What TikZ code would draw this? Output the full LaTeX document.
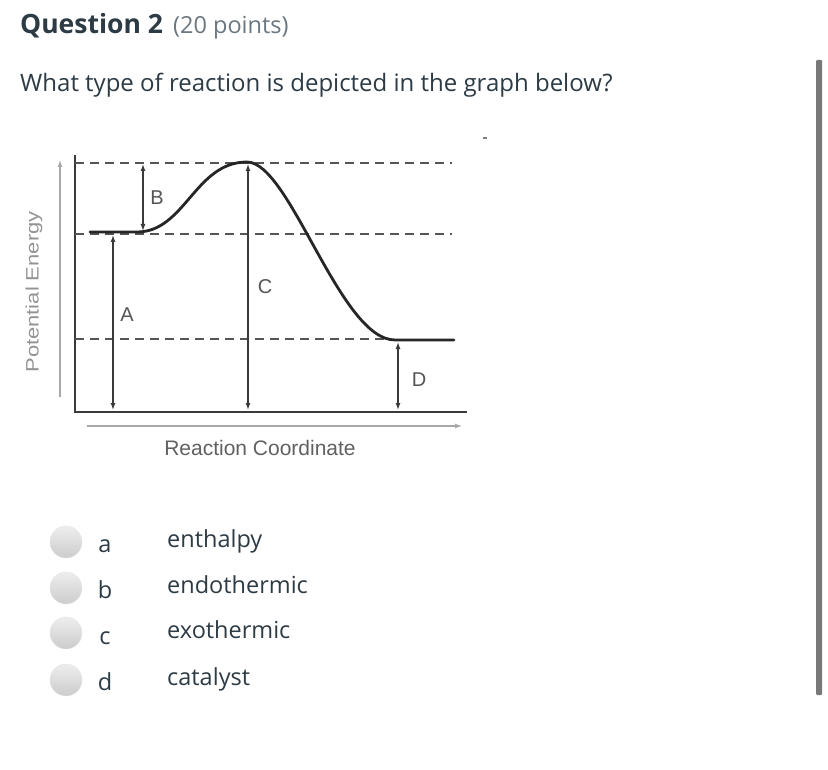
\documentclass[tikz,border=0pt]{standalone}
\usepackage{fontspec}
\setmainfont{Open Sans}
\newfontfamily\graphfont{Liberation Sans}
\usetikzlibrary{arrows.meta}
\definecolor{canvastext}{HTML}{2D3B45}
\definecolor{canvasgray}{HTML}{6B7780}
\definecolor{axiscol}{HTML}{3A3A3A}
\definecolor{dashcol}{HTML}{555555}
\definecolor{lblcol}{HTML}{555555}
\definecolor{lightax}{HTML}{A8A8A8}
\tikzset{
  txt/.style={inner sep=0pt, anchor=base west, text=canvastext},
  axis/.style={draw=axiscol, line width=1.5pt},
  lightaxis/.style={draw=lightax, line width=1.2pt, -{Latex[length=7pt,width=5pt]}},
  dashline/.style={draw=dashcol, line width=1.4pt, dash pattern=on 9pt off 6pt},
  curve/.style={draw=black!85, line width=2.8pt, line cap=round},
  dim/.style={draw=axiscol, line width=1.3pt, {Latex[length=7pt,width=5pt]}-{Latex[length=7pt,width=5pt]}},
  glabel/.style={inner sep=0pt, text=lblcol, font=\graphfont\fontsize{20}{20}\selectfont},
  radio/.style={circle, minimum size=32pt, inner sep=0pt, top color=white!93!black, bottom color=white!80!black, draw=white!90!black, line width=0.4pt},
  optletter/.style={inner sep=0pt, anchor=base, text=canvastext, font=\fontsize{23.5}{23.5}\selectfont},
  optword/.style={txt, font=\fontsize{23.5}{23.5}\selectfont},
}
\begin{document}
\begin{tikzpicture}[x=1pt,y=-1pt]
\useasboundingbox[fill=white] (0,0) rectangle (828,770);
% header
\node[txt, font=\bfseries\fontsize{26.5}{26.5}\selectfont] (title) at (20,34) {Question 2};
\node[txt, text=canvasgray, font=\fontsize{23.5}{23.5}\selectfont] (pts) at (173,34) {(20 points)};
\node[txt, font=\fontsize{24}{24}\selectfont] (q) at (20,92) {What type of reaction is depicted in the graph below?};
% scrollbar
\fill[gray!95!black, rounded corners=1pt] (816,60) rectangle (822,695);
% small mark
\draw[gray, line width=1.2pt] (483,138) -- (487,138);
% graph
\coordinate (o) at (75,412);
\coordinate (ytop) at (75,155);
\coordinate (xend) at (467,412);
\draw[axis] (ytop) -- (o) -- (xend);
\coordinate (ya0) at (60,397); \coordinate (ya1) at (60,160);
\draw[lightaxis] (ya0) -- (ya1);
\coordinate (xa0) at (87,426); \coordinate (xa1) at (462,426);
\draw[lightaxis] (xa0) -- (xa1);
% dashed levels
\coordinate (t0) at (75,163); \coordinate (t1) at (452,163);
\coordinate (m0) at (75,234); \coordinate (m1) at (452,234);
\coordinate (b0) at (75,339); \coordinate (b1) at (390,339);
\draw[dashline] (t0) -- (t1);
\draw[dashline] (m0) -- (m1);
\draw[dashline] (b0) -- (b1);
% curve
\coordinate (c0) at (90,232); \coordinate (c1) at (137,232);
\coordinate (peak) at (247,162);
\coordinate (c3) at (395,340); \coordinate (c4) at (454,340);
\draw[curve] (c0) -- (c1) .. controls (185,232) and (195,162) .. (peak)
  .. controls (290,162) and (340,340) .. (c3) -- (c4);
% dimension arrows
\coordinate (Bt) at (143,164); \coordinate (Bb) at (143,231);
\coordinate (At) at (113,235); \coordinate (Ab) at (113,410);
\coordinate (Ct) at (248,164); \coordinate (Cb) at (248,410);
\coordinate (Dt) at (398,342); \coordinate (Db) at (398,410);
\draw[dim] (Bt) -- (Bb);
\draw[dim] (At) -- (Ab);
\draw[dim] (Ct) -- (Cb);
\draw[dim] (Dt) -- (Db);
\node[glabel] (lB) at (157,198) {B};
\node[glabel] (lA) at (127,315) {A};
\node[glabel] (lC) at (265,287) {C};
\node[glabel] (lD) at (419,380) {D};
\node[glabel, text=black!62, font=\graphfont\fontsize{21}{21}\selectfont] (xl) at (260,448) {Reaction Coordinate};
\node[glabel, text=black!42, rotate=90, font=\graphfont\fontsize{18}{18}\selectfont] (yl) at (34,292) {\scalebox{1.22}[1]{Potential Energy}};
% options
\node[radio] (ra) at (66,542) {};
\node[radio] (rb) at (66,588) {};
\node[radio] (rc) at (66,633) {};
\node[radio] (rd) at (66,680) {};
\node[optletter] (la) at (105,552) {a};
\node[optletter] (lb) at (105,598) {b};
\node[optletter] (lc) at (105,644) {c};
\node[optletter] (ld) at (105,690) {d};
\node[optword] (wa) at (167,547) {enthalpy};
\node[optword] (wb) at (167,593) {endothermic};
\node[optword] (wc) at (167,638) {exothermic};
\node[optword] (wd) at (167,685) {catalyst};
\end{tikzpicture}
\end{document}
